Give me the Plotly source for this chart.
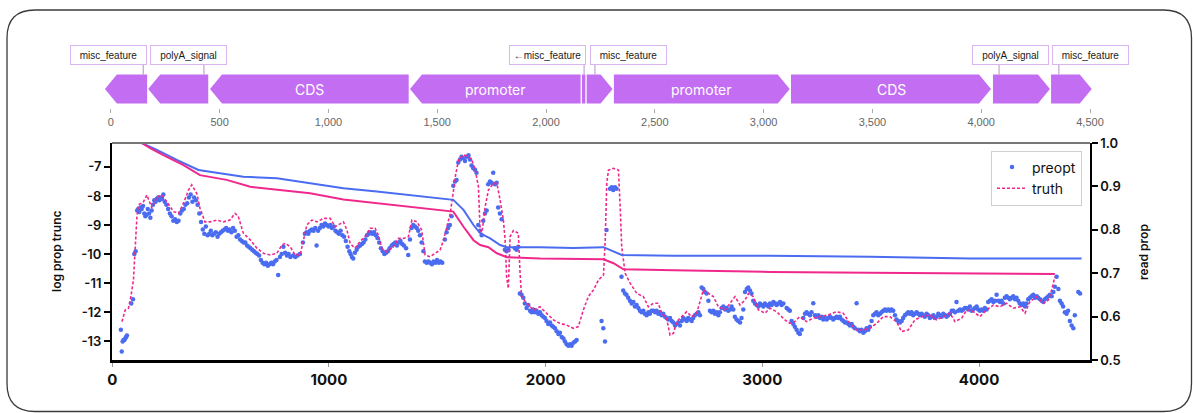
import plotly.graph_objects as go

W, H = 1193, 413

# ---------------- data ----------------
# feature track (top), positions in bp
feat_names = ["misc_feature", "polyA_signal", "CDS", "promoter", "misc_feature",
              "misc_feature", "promoter", "CDS", "polyA_signal", "misc_feature"]
feat_start = [-27, 172, 456, 1375, 2165, 2187, 2312, 3126, 4054, 4321]
feat_end = [167, 448, 1369, 2159, 2181, 2306, 3120, 4045, 4316, 4508]
feat_strand = [-1, -1, -1, -1, 0, 1, 1, 1, 1, 1]
feat_inner_label = ["", "", "CDS", "promoter", "", "", "promoter", "CDS", "", ""]

label_text = ["misc_feature", "polyA_signal", "\u2190misc_feature", "misc_feature",
              "polyA_signal", "misc_feature"]
label_center = [-11, 357, 2008, 2378, 4136, 4500]
label_anchor = [149, 428, 2175, 2225, 4082, 4357]

track_ticks = [0, 500, 1000, 1500, 2000, 2500, 3000, 3500, 4000, 4500]

# main plot
x_ticks = [0, 1000, 2000, 3000, 4000]
left_ticks = [-13, -12, -11, -10, -9, -8, -7]
left_ticktext = ["-13", "-12", "-11", "-10", "-9", "-8", "-7"]
right_ticks = [0.5, 0.6, 0.7, 0.8, 0.9, 1.0]
right_ticktext = ["0.5", "0.6", "0.7", "0.8", "0.9", "1.0"]

truth_points = [
    (45, -12.32), (60, -11.92), (75, -11.86), (86, -11.46), (98, -10.89), (106, -9.96),
    (114, -8.71), (121, -8.31), (144, -8.20), (160, -7.97), (183, -8.42), (206, -8.03),
    (229, -7.97), (252, -8.20), (283, -8.54), (306, -8.60), (329, -8.25), (352, -7.80),
    (367, -7.62), (390, -7.91), (405, -8.42), (428, -8.89), (451, -8.89), (482, -8.83),
    (513, -8.89), (543, -8.83), (567, -8.60), (582, -8.71), (605, -9.28), (637, -9.51),
    (668, -9.80), (698, -9.97), (729, -10.03), (760, -9.97), (783, -9.69), (798, -9.63),
    (821, -9.74), (844, -10.03), (867, -10.03), (883, -9.51), (898, -9.00), (921, -8.83),
    (945, -8.89), (975, -8.77), (1006, -8.77), (1029, -9.06), (1052, -8.94), (1067, -8.89),
    (1083, -9.17), (1098, -9.63), (1120, -9.80), (1143, -9.57), (1167, -9.40), (1190, -9.11),
    (1213, -9.11), (1228, -9.34), (1244, -9.80), (1267, -9.92), (1298, -9.74), (1321, -9.46),
    (1344, -9.46), (1367, -9.40), (1383, -8.83), (1406, -8.89), (1428, -9.17), (1444, -10.03),
    (1467, -10.09), (1490, -9.97), (1513, -9.86), (1529, -9.51), (1544, -9.06), (1560, -8.60),
    (1575, -7.80), (1583, -7.34), (1598, -6.76), (1621, -6.59), (1644, -6.65), (1659, -6.76),
    (1675, -7.11), (1690, -7.68), (1698, -9.28), (1705, -9.34), (1721, -8.37), (1736, -7.80),
    (1759, -7.57), (1775, -7.57), (1790, -8.14), (1805, -8.83), (1813, -9.51), (1820, -10.78),
    (1828, -11.18), (1836, -9.40), (1851, -9.19), (1874, -9.28), (1882, -10.66), (1889, -11.46),
    (1913, -11.69), (1943, -11.92), (1974, -11.81), (2005, -12.03), (2036, -12.26), (2066, -12.38),
    (2097, -12.44), (2128, -12.55), (2151, -12.49), (2174, -11.92), (2197, -11.46), (2221, -11.23),
    (2244, -10.89), (2267, -10.72), (2275, -9.51), (2282, -7.57), (2290, -7.11), (2313, -7.05),
    (2336, -7.11), (2344, -8.37), (2351, -9.74), (2367, -10.66), (2390, -11.00), (2421, -11.35),
    (2451, -11.46), (2474, -11.81), (2497, -11.69), (2520, -11.69), (2535, -12.03), (2558, -12.20),
    (2574, -12.78), (2590, -12.72), (2605, -12.32), (2628, -12.15), (2651, -11.98), (2674, -12.15),
    (2697, -12.03), (2728, -11.23), (2751, -11.35), (2774, -11.46), (2797, -11.81), (2828, -11.92),
    (2851, -11.69), (2874, -11.46), (2897, -11.75), (2920, -11.58), (2936, -11.35), (2958, -11.46),
    (2982, -11.92), (3012, -12.03), (3035, -11.86), (3066, -11.98), (3104, -12.26), (3127, -12.38),
    (3150, -12.32), (3173, -12.15), (3204, -12.32), (3235, -12.20), (3265, -12.15), (3304, -12.09),
    (3342, -11.98), (3373, -12.03), (3404, -12.38), (3435, -12.61), (3465, -12.61), (3496, -12.55),
    (3527, -12.38), (3558, -12.15), (3588, -12.15), (3619, -12.32), (3642, -12.66), (3673, -12.61),
    (3704, -12.26), (3735, -12.15), (3773, -12.09), (3804, -12.26), (3835, -12.15), (3866, -12.03),
    (3889, -12.32), (3920, -12.20), (3943, -11.92), (3974, -11.98), (4004, -12.15), (4035, -11.92),
    (4066, -11.75), (4096, -11.81), (4127, -11.69), (4158, -11.86), (4189, -11.81), (4212, -12.03),
    (4235, -11.63), (4266, -11.46), (4297, -11.69), (4320, -11.58), (4335, -11.23), (4350, -10.78),
]

preopt_points = [
    (40, -12.6), (44, -13.35), (48, -13.0), (52, -12.95), (56, -12.95), (60, -12.9), (64, -12.85),
    (68, -12.8), (88, -11.7), (96, -11.55), (102, -10.0), (108, -9.9),
    (115, -8.5), (120, -8.45), (125, -8.55), (130, -8.4), (136, -8.45), (142, -8.35), (148, -8.6),
    (153, -8.7), (158, -8.65), (164, -8.45), (170, -8.6), (176, -8.75), (182, -8.5), (188, -8.3),
    (194, -8.15), (200, -8.2), (206, -8.1), (212, -8.05), (218, -8.15), (224, -8.05), (230, -8.1),
    (236, -7.95), (242, -8.2), (250, -8.3), (258, -8.45), (266, -8.6), (274, -8.7), (282, -8.85),
    (290, -8.8), (298, -8.9), (306, -8.85), (314, -8.6), (322, -8.5), (330, -8.45), (338, -8.3),
    (346, -8.25), (354, -8.05), (362, -7.95), (370, -8.2), (378, -8.05), (386, -8.15), (394, -8.3),
    (402, -8.6), (410, -8.9), (418, -9.15), (425, -9.3), (432, -9.05), (440, -9.35), (448, -9.3),
    (455, -9.2), (462, -9.35), (470, -9.3), (478, -9.25), (486, -9.4), (494, -9.3), (502, -9.25),
    (510, -9.2), (518, -9.15), (526, -9.1), (534, -9.2), (542, -9.15), (550, -9.25), (558, -9.1),
    (566, -9.2), (574, -9.4), (582, -9.35), (590, -9.5), (598, -9.55), (606, -9.6), (614, -9.6),
    (622, -9.7), (630, -9.75), (638, -9.8), (646, -9.85), (654, -9.9), (662, -9.95), (670, -10.0),
    (678, -10.05), (686, -10.2), (694, -10.3), (702, -10.35), (710, -10.3), (718, -10.4),
    (726, -10.35), (734, -10.3), (742, -10.35), (750, -10.25), (758, -10.2), (766, -10.72),
    (774, -10.1), (782, -10.0), (790, -9.75), (798, -9.95), (806, -10.05), (814, -10.0),
    (822, -10.1), (835, -10.05), (845, -10.1), (855, -10.05), (866, -10.0), (880, -9.6),
    (889, -9.3), (897, -9.25), (905, -9.3), (913, -9.2), (921, -9.15), (929, -9.2), (937, -9.1),
    (943, -9.7), (950, -9.2), (958, -9.1), (966, -9.0), (974, -9.05), (982, -8.95), (990, -9.0),
    (998, -9.05), (1006, -9.0), (1014, -9.1), (1022, -9.05), (1030, -9.2), (1038, -9.25),
    (1046, -9.3), (1054, -9.2), (1062, -9.35), (1070, -9.4), (1078, -9.55), (1086, -9.75),
    (1094, -9.9), (1100, -10.0), (1106, -10.1), (1112, -10.15), (1120, -9.95), (1128, -9.85),
    (1136, -9.75), (1144, -9.7), (1152, -9.65), (1160, -9.6), (1168, -9.5), (1176, -9.35),
    (1184, -9.3), (1192, -9.25), (1200, -9.3), (1208, -9.25), (1216, -9.35), (1224, -9.45),
    (1232, -9.6), (1240, -9.8), (1248, -9.9), (1256, -10.0), (1264, -9.95), (1272, -9.9),
    (1280, -9.8), (1290, -9.7), (1298, -9.65), (1306, -9.6), (1314, -9.7), (1322, -9.6),
    (1330, -9.55), (1338, -9.65), (1346, -9.7), (1356, -9.8), (1366, -10.03), (1374, -9.5),
    (1381, -9.1), (1389, -9.0), (1397, -9.05), (1405, -9.1), (1412, -9.2), (1420, -9.35),
    (1428, -9.6), (1436, -9.9), (1443, -10.25), (1451, -10.3), (1459, -10.25), (1467, -10.3),
    (1475, -10.35), (1483, -10.25), (1491, -10.3), (1499, -10.2), (1507, -10.3), (1515, -10.25),
    (1523, -10.3), (1535, -9.5), (1543, -9.25), (1550, -9.1), (1558, -9.0), (1566, -8.7),
    (1574, -7.65), (1582, -7.5), (1589, -7.45), (1597, -6.85), (1605, -6.75), (1612, -6.65),
    (1620, -6.7), (1628, -6.8), (1636, -6.65), (1644, -6.6), (1651, -6.75), (1658, -6.95),
    (1666, -7.05), (1674, -7.1), (1681, -7.2), (1689, -9.0), (1697, -9.2), (1705, -9.35),
    (1712, -8.85), (1720, -8.6), (1728, -8.5), (1735, -7.6), (1743, -7.5), (1751, -7.55),
    (1758, -7.2), (1766, -7.6), (1774, -7.55), (1781, -8.4), (1789, -8.6), (1797, -8.8),
    (1812, -9.85), (1820, -9.9), (1828, -9.85), (1858, -9.8), (1866, -9.85), (1874, -9.75),
    (1881, -11.35), (1889, -11.4), (1897, -11.5), (1904, -11.7), (1912, -11.85), (1920, -11.75),
    (1928, -11.95), (1935, -12.0), (1943, -11.9), (1950, -12.0), (1958, -11.95), (1966, -12.05),
    (1974, -12.0), (1982, -12.1), (1989, -12.15), (1997, -12.2), (2004, -12.3), (2012, -12.4),
    (2020, -12.35), (2028, -12.45), (2035, -12.5), (2043, -12.55), (2051, -12.65), (2059, -12.75),
    (2066, -12.7), (2074, -12.85), (2082, -12.9), (2089, -13.0), (2097, -13.1), (2105, -13.15),
    (2113, -13.1), (2120, -13.15), (2128, -13.05), (2136, -13.0), (2143, -12.95),
    (2258, -12.3), (2266, -12.55), (2274, -13.0), (2281, -9.17), (2297, -7.75), (2305, -7.7),
    (2312, -7.8), (2320, -7.7), (2327, -7.75), (2350, -10.78), (2358, -11.25), (2366, -11.35),
    (2373, -11.4), (2381, -11.5), (2389, -11.6), (2397, -11.7), (2405, -11.65), (2412, -11.8),
    (2420, -11.75), (2428, -11.85), (2435, -11.95), (2443, -12.0), (2451, -11.95), (2458, -12.05),
    (2466, -12.1), (2474, -12.0), (2481, -12.05), (2489, -11.95), (2497, -11.95), (2505, -12.0),
    (2512, -11.95), (2520, -12.05), (2527, -12.0), (2535, -12.1), (2543, -12.05), (2551, -12.15),
    (2558, -12.2), (2566, -12.25), (2574, -12.2), (2582, -12.3), (2589, -12.35), (2597, -12.45),
    (2605, -12.4), (2612, -12.35), (2620, -12.45), (2628, -12.3), (2635, -12.2), (2643, -12.25),
    (2651, -12.3), (2658, -12.2), (2666, -12.25), (2674, -12.3), (2681, -12.2), (2689, -12.1),
    (2697, -12.05), (2705, -12.0), (2712, -12.1), (2720, -11.15), (2728, -11.2), (2735, -11.3),
    (2743, -11.35), (2751, -11.6), (2758, -11.95), (2766, -12.0), (2774, -11.95), (2781, -12.05),
    (2789, -12.0), (2797, -12.1), (2804, -12.0), (2812, -11.85), (2820, -11.8), (2828, -11.9),
    (2835, -11.85), (2843, -11.95), (2851, -11.9), (2858, -11.8), (2866, -11.9), (2873, -12.15),
    (2881, -12.25), (2889, -12.3), (2897, -12.35), (2904, -12.2), (2912, -11.9), (2920, -11.3),
    (2928, -11.2), (2935, -11.15), (2943, -11.25), (2950, -11.35), (2958, -11.6), (2966, -11.7),
    (2974, -11.75), (2982, -11.8), (2989, -11.7), (2997, -11.75), (3005, -11.8), (3012, -11.7),
    (3020, -11.75), (3028, -11.8), (3035, -11.7), (3043, -11.75), (3051, -11.65), (3059, -11.7),
    (3066, -11.75), (3074, -11.7), (3082, -11.65), (3089, -11.75), (3097, -11.7), (3112, -11.85),
    (3120, -11.9), (3127, -11.95), (3135, -12.3), (3143, -12.4), (3150, -12.5), (3158, -12.6),
    (3166, -12.7), (3173, -12.75), (3181, -12.6), (3189, -12.2), (3197, -12.05), (3204, -12.0),
    (3212, -12.05), (3220, -12.1), (3227, -12.0), (3235, -11.69), (3243, -12.1), (3250, -12.15),
    (3258, -12.1), (3266, -12.2), (3274, -12.15), (3281, -12.25), (3289, -12.2), (3297, -12.25),
    (3304, -12.2), (3312, -12.15), (3320, -12.2), (3327, -12.25), (3335, -12.2), (3343, -12.15),
    (3350, -12.2), (3358, -12.15), (3366, -12.25), (3374, -12.3), (3381, -12.35), (3389, -12.35),
    (3397, -12.4), (3404, -12.45), (3412, -12.4), (3420, -12.5), (3427, -12.55), (3435, -11.69),
    (3443, -12.6), (3450, -12.65), (3458, -12.6), (3466, -12.7), (3473, -12.65), (3481, -12.55),
    (3489, -12.6), (3496, -12.5), (3504, -12.3), (3512, -12.1), (3520, -12.05), (3527, -12.0),
    (3535, -12.1), (3543, -12.05), (3550, -12.0), (3558, -11.95), (3566, -11.9), (3573, -11.95),
    (3581, -11.9), (3589, -11.95), (3596, -11.9), (3604, -11.95), (3612, -12.1), (3619, -12.25),
    (3627, -12.3), (3635, -12.35), (3643, -12.3), (3650, -12.2), (3658, -12.1), (3666, -12.05),
    (3673, -12.0), (3681, -12.05), (3689, -12.0), (3696, -12.1), (3704, -12.05), (3712, -12.0),
    (3720, -12.05), (3727, -12.1), (3735, -12.05), (3742, -12.1), (3750, -12.15), (3758, -12.05),
    (3766, -12.1), (3773, -12.2), (3781, -12.15), (3789, -12.1), (3796, -12.2), (3804, -12.15),
    (3812, -12.05), (3819, -12.1), (3827, -12.15), (3835, -12.05), (3843, -12.1), (3850, -12.15),
    (3858, -12.1), (3866, -12.05), (3874, -11.95), (3881, -11.95), (3889, -12.0), (3896, -11.65),
    (3904, -11.95), (3912, -11.9), (3920, -11.95), (3927, -11.9), (3935, -11.85), (3942, -11.85),
    (3950, -11.9), (3958, -11.8), (3966, -11.95), (3973, -11.9), (3981, -11.85), (3989, -11.8),
    (3996, -11.9), (4004, -11.95), (4012, -11.9), (4020, -11.95), (4027, -11.85), (4035, -11.9),
    (4042, -11.65), (4050, -11.6), (4058, -11.55), (4066, -11.65), (4074, -11.6), (4081, -11.4),
    (4089, -11.6), (4097, -11.65), (4104, -11.6), (4112, -11.7), (4119, -11.5), (4127, -11.45),
    (4135, -11.5), (4142, -11.55), (4150, -11.5), (4158, -11.45), (4166, -11.55), (4173, -11.5),
    (4181, -11.6), (4188, -11.7), (4196, -11.75), (4204, -11.7), (4212, -11.8), (4219, -11.7),
    (4227, -11.55), (4235, -11.5), (4242, -11.45), (4250, -11.4), (4258, -11.5), (4266, -11.45),
    (4273, -11.5), (4281, -11.55), (4289, -11.6), (4297, -11.65), (4304, -11.55), (4312, -11.5),
    (4320, -11.45), (4327, -11.4), (4335, -11.45), (4343, -11.3), (4350, -11.12), (4358, -10.78),
    (4366, -11.2), (4373, -11.6), (4381, -11.7), (4388, -11.8), (4396, -12.0), (4404, -12.05),
    (4411, -11.95), (4419, -12.3), (4427, -12.45), (4435, -12.55), (4442, -12.1), (4458, -11.3),
    (4466, -11.35),
]

readprop_preopt = [
    (136, 1.0), (206, 0.984), (298, 0.961), (398, 0.938), (451, 0.934), (605, 0.922),
    (760, 0.919), (913, 0.907), (1067, 0.896), (1221, 0.888), (1374, 0.880), (1512, 0.873),
    (1574, 0.869), (1621, 0.846), (1667, 0.811), (1698, 0.792), (1744, 0.780), (1790, 0.765),
    (1821, 0.760), (1974, 0.760), (2128, 0.758), (2267, 0.760), (2313, 0.750), (2351, 0.742),
    (2590, 0.740), (3035, 0.740), (3496, 0.738), (3958, 0.734), (4473, 0.734),
]
readprop_truth = [
    (136, 1.0), (175, 0.988), (236, 0.972), (329, 0.949), (405, 0.926), (528, 0.915),
    (637, 0.899), (760, 0.892), (913, 0.884), (1067, 0.870), (1221, 0.861), (1374, 0.852),
    (1512, 0.844), (1574, 0.842), (1621, 0.807), (1667, 0.776), (1698, 0.765), (1736, 0.760),
    (1775, 0.746), (1821, 0.737), (1974, 0.734), (2267, 0.732), (2313, 0.723), (2359, 0.709),
    (2590, 0.707), (3035, 0.703), (3496, 0.701), (3958, 0.700), (4350, 0.698),
]

# ---------------- styling ----------------
BLUE = "#4a6cf0"
PINK = "#f0288c"
FEAT = "#c36ef2"
FONT = "Inter, Liberation Sans, Arial, sans-serif"


def py(p):
    return 1 - p / H


def pxx(p):
    return p / W


fig = go.Figure()

fig.add_trace(go.Scatter(
    x=[p[0] for p in preopt_points], y=[p[1] for p in preopt_points],
    mode="markers", name="preopt",
    marker=dict(color=BLUE, size=4.5, line=dict(width=0)),
    xaxis="x", yaxis="y",
))
fig.add_trace(go.Scatter(
    x=[p[0] for p in truth_points], y=[p[1] for p in truth_points],
    mode="lines", name="truth",
    line=dict(color=PINK, width=1.6, dash="3px,2px"),
    xaxis="x", yaxis="y",
))
fig.add_trace(go.Scatter(
    x=[p[0] for p in readprop_preopt], y=[p[1] for p in readprop_preopt],
    mode="lines", showlegend=False, line=dict(color=BLUE, width=2),
    xaxis="x", yaxis="y2",
))
fig.add_trace(go.Scatter(
    x=[p[0] for p in readprop_truth], y=[p[1] for p in readprop_truth],
    mode="lines", showlegend=False, line=dict(color=PINK, width=2),
    xaxis="x", yaxis="y2",
))
# invisible trace to activate the feature-track axis
fig.add_trace(go.Scatter(x=[0, 4500], y=[0, 0], mode="markers", marker=dict(opacity=0),
                         showlegend=False, hoverinfo="skip", xaxis="x2", yaxis="y3"))

shapes = []
annotations = []

# feature arrows
ARROW_TOP, ARROW_BOT = 74.5, 103.5
ymid = (ARROW_TOP + ARROW_BOT) / 2
for s, e, strand, inner in zip(feat_start, feat_end, feat_strand, feat_inner_label):
    length = e - s
    head = min(55, 0.55 * length)
    yt, yb, ym = py(ARROW_TOP), py(ARROW_BOT), py(ymid)
    if strand == 1:
        path = f"M {s} {yt} L {e - head} {yt} L {e} {ym} L {e - head} {yb} L {s} {yb} Z"
    elif strand == -1:
        path = f"M {e} {yt} L {s + head} {yt} L {s} {ym} L {s + head} {yb} L {e} {yb} Z"
    else:
        path = f"M {s} {yt} L {e} {yt} L {e} {yb} L {s} {yb} Z"
    shapes.append(dict(type="path", path=path, xref="x2", yref="paper",
                       fillcolor=FEAT, line=dict(width=0), layer="above"))
    if inner:
        annotations.append(dict(x=(s + e) / 2, y=py(ymid), xref="x2", yref="paper",
                                xanchor="center", yanchor="middle",
                                text=inner, showarrow=False,
                                font=dict(family=FONT, size=14, color="white")))

# feature labels with connectors
BOX_TOP, BOX_BOT = 45.5, 65
for txt, c, a in zip(label_text, label_center, label_anchor):
    shapes.append(dict(type="line", xref="x2", yref="paper", x0=a, x1=a,
                       y0=py(BOX_BOT), y1=py(ARROW_TOP),
                       line=dict(color="#b58fd0", width=1)))
    annotations.append(dict(x=c, y=py((BOX_TOP + BOX_BOT) / 2), xref="x2", yref="paper",
                            xanchor="center", yanchor="middle",
                            text=txt, showarrow=False, width=71, height=14,
                            bgcolor="white", bordercolor="#d9b6f0", borderwidth=1,
                            borderpad=2,
                            font=dict(family="Liberation Sans, Arial, sans-serif",
                                      size=10, color="#1a1a1a")))

# top (gray) spine of main plot
shapes.append(dict(type="line", xref="paper", yref="paper",
                   x0=pxx(112), x1=pxx(1090), y0=py(143), y1=py(143),
                   line=dict(color="#777777", width=2)))

# outer rounded frame
L, T, R, B, rr = 7, 10, 1191.5, 411.5, 28
def P(x, y):
    return f"{pxx(x)} {py(y)}"
frame = (f"M {P(L + rr, T)} L {P(R - rr, T)} Q {P(R, T)} {P(R, T + rr)} "
         f"L {P(R, B - rr)} Q {P(R, B)} {P(R - rr, B)} L {P(L + rr, B)} "
         f"Q {P(L, B)} {P(L, B - rr)} L {P(L, T + rr)} Q {P(L, T)} {P(L + rr, T)} Z")
shapes.append(dict(type="path", path=frame, xref="paper", yref="paper",
                   line=dict(color="#3a3a3a", width=1.3), layer="below"))

# axis titles
annotations.append(dict(x=pxx(56), y=py(252), xref="paper", yref="paper",
                        xanchor="center", yanchor="middle",
                        text="log prop trunc", textangle=-90, showarrow=False,
                        font=dict(family=FONT, size=12, color="#111", weight=600)))
annotations.append(dict(x=pxx(1143), y=py(252), xref="paper", yref="paper",
                        xanchor="center", yanchor="middle",
                        text="read prop", textangle=-90, showarrow=False,
                        font=dict(family=FONT, size=12, color="#111", weight=600)))

# track axis range so that 0 -> 110.8 px and 4500 -> 1090 px
TR_L, TR_R = 100, 1135
scale = (1090 - 110.8) / 4500
tr_lo = (TR_L - 110.8) / scale
tr_hi = (TR_R - 110.8) / scale

fig.update_layout(
    template="none",
    width=W, height=H, autosize=False,
    margin=dict(l=0, r=0, t=0, b=0, pad=0),
    paper_bgcolor="white", plot_bgcolor="white",
    font=dict(family=FONT, color="#111"),
    showlegend=True,
    legend=dict(x=pxx(1082), y=py(150.5), xanchor="right", yanchor="top",
                bgcolor="white", bordercolor="#cfcfcf", borderwidth=1,
                font=dict(family=FONT, size=14, color="#111"),
                itemwidth=30, tracegroupgap=0),
    xaxis=dict(domain=[pxx(112), pxx(1090)], range=[-1, 4512], anchor="y",
               automargin=False,
               showgrid=False, zeroline=False, showline=True, linecolor="black",
               linewidth=2.5, ticks="outside", ticklen=4, tickwidth=1, tickcolor="#999",
               tickvals=x_ticks, ticktext=[str(v) for v in x_ticks],
               tickfont=dict(family=FONT, size=15, color="#111", weight=700)),
    yaxis=dict(domain=[py(360), py(143)], range=[-13.64, -6.18], anchor="x",
               automargin=False,
               showgrid=False, zeroline=False, showline=True, linecolor="black",
               linewidth=2, ticks="outside", ticklen=6, tickwidth=1.5, tickcolor="black",
               tickvals=left_ticks, ticktext=left_ticktext,
               tickfont=dict(family=FONT, size=13, color="#111", weight=600)),
    yaxis2=dict(overlaying="y", side="right", anchor="x", range=[0.5, 1.0],
                automargin=False,
                showgrid=False, zeroline=False, showline=True, linecolor="black",
                linewidth=1.5, ticks="outside", ticklen=6, tickwidth=1.5,
                tickcolor="black", tickvals=right_ticks, ticktext=right_ticktext,
                tickfont=dict(family=FONT, size=13, color="#111", weight=600)),
    xaxis2=dict(domain=[pxx(TR_L), pxx(TR_R)], range=[tr_lo, tr_hi], anchor="y3",
                automargin=False,
                showgrid=False, zeroline=False, showline=False,
                ticks="outside", ticklen=4, tickwidth=1, tickcolor="#aaaaaa",
                tickvals=track_ticks, tickformat=",d",
                tickfont=dict(family="Liberation Sans, Arial, sans-serif", size=11,
                              color="#666")),
    yaxis3=dict(domain=[py(108), py(40)], range=[0, 1], visible=False, fixedrange=True,
                automargin=False),
    shapes=shapes,
    annotations=annotations,
)

post = ("document.body.style.margin='0';document.body.style.padding='0';"
        "document.body.style.overflow='hidden';"
        "document.documentElement.style.overflow='hidden';")
fig.write_html("out.html", post_script=post,
               config={"responsive": False, "displayModeBar": False})
